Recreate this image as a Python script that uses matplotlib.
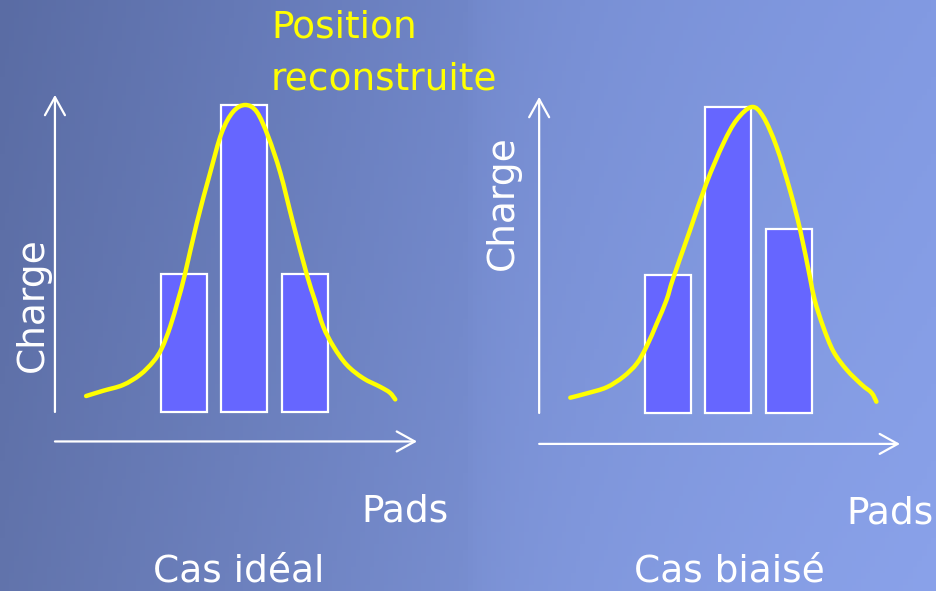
import numpy as np
import matplotlib
matplotlib.use("Agg")
import matplotlib.pyplot as plt
from matplotlib.path import Path
from matplotlib.patches import PathPatch

# pad positions and charge values (max = 100)
pads = [1, 2, 3]
charge_ideal = [45, 100, 45]
charge_biased = [45, 100, 60]

# reconstructed position curves (pad units, charge)
fit_ideal_x = [-0.61, -0.33, 0.00, 0.28, 0.50, 0.64, 0.78, 0.91, 1.02, 1.22, 1.44, 1.63,
               1.82, 2.02, 2.21, 2.40, 2.60, 2.81, 3.04, 3.17, 3.31, 3.48, 3.70, 3.97,
               4.25, 4.41, 4.50]
fit_ideal_y = [5.2, 6.9, 8.8, 12.1, 16.4, 20.7, 27.8, 36.5, 44.6, 61.6, 77.9, 90.9,
               97.8, 100.0, 97.8, 89.7, 77.9, 61.6, 44.6, 36.5, 27.8, 21.3, 15.3, 11.0,
               8.2, 6.3, 4.1]
fit_biased_x = [-0.61, -0.34, -0.01, 0.27, 0.49, 0.65, 0.82, 0.98, 1.09, 1.37, 1.64, 1.92,
                2.14, 2.39, 2.58, 2.80, 3.02, 3.19, 3.35, 3.43, 3.57, 3.74, 3.96,
                4.21, 4.37, 4.45]
fit_biased_y = [5.0, 6.4, 8.4, 11.9, 16.2, 21.7, 29.3, 36.9, 44.0, 59.8, 75.1, 88.1,
                95.8, 100.0, 96.8, 87.0, 72.9, 59.8, 44.5, 36.9, 28.2, 20.1, 14.1,
                9.2, 6.6, 3.7]

W, H = 936, 591
BAR = "#6666ff"
YEL = "#ffff00"
FONT = "DejaVu Sans"

fig = plt.figure(figsize=(W / 100, H / 100), dpi=100)

# slide background
bg = fig.add_axes([0, 0, 1, 1])
bg.set_axis_off()
xs = np.linspace(0, 1, 200)
ys = np.linspace(0, 1, 100)
left_c = np.array([90, 108, 164]) / 255
mid_c = np.array([112, 134, 200]) / 255
right_c = np.array([130, 154, 226]) / 255
col = np.where(xs[:, None] < 0.5,
               left_c + (mid_c - left_c) * (xs[:, None] / 0.5),
               mid_c + (right_c - mid_c) * np.sqrt((xs[:, None] - 0.5) / 0.5))
img = np.repeat(col[None, :, :], len(ys), axis=0)
img = img + 0.03 * ys[:, None, None]  # slightly lighter at the bottom
bg.imshow(np.clip(img, 0, 1), aspect="auto", extent=[0, 1, 0, 1], origin="upper")
bg.set_xlim(0, 1)
bg.set_ylim(0, 1)


def smooth_path(x, y):
    # bezier path through the read points (catmull-rom handles)
    p = np.column_stack([x, y])
    p = np.vstack([p[0], p, p[-1]])
    verts = [p[1]]
    codes = [Path.MOVETO]
    for i in range(1, len(p) - 2):
        c1 = p[i] + (p[i + 1] - p[i - 1]) / 6
        c2 = p[i + 1] - (p[i + 2] - p[i]) / 6
        verts += [c1, c2, p[i + 1]]
        codes += [Path.CURVE4] * 3
    return Path(verts, codes)


def panel(x_px, xlim, ylim, values, fx, fy, y_top, x_axis_y, x_end):
    ax = fig.add_axes([x_px / W, 1 - 460 / H, 390 / W, 380 / H])
    ax.patch.set_alpha(0)
    ax.set_xlim(*xlim)
    ax.set_ylim(*ylim)
    ax.set_axis_off()
    ax.bar(pads, values, width=0.76, color=BAR, edgecolor="white", linewidth=1.6, zorder=2)
    ax.add_patch(PathPatch(smooth_path(fx, fy), fill=False, edgecolor=YEL, lw=3.2,
                           capstyle="round", joinstyle="round", zorder=3))
    arrow = dict(arrowstyle="->,head_length=0.65,head_width=0.36", color="white",
                 lw=1.6, mutation_scale=20, shrinkA=0, shrinkB=0)
    ax.annotate("", xy=(-1.125, y_top), xytext=(-1.125, 0), arrowprops=arrow)
    ax.annotate("", xy=(x_end, x_axis_y), xytext=(-1.125, x_axis_y), arrowprops=arrow)
    return ax


panel(40, (-1.372, 5.074), (-15.64, 108.14), charge_ideal,
      fit_ideal_x, fit_ideal_y, 103.3, -9.6, 4.86)
panel(525, (-1.359, 5.088), (-15.36, 108.82), charge_biased,
      fit_biased_x, fit_biased_y, 103.3, -10.1, 4.84)

txt = dict(fontsize=27, family=FONT, va="baseline", ha="left")
fig.text(271 / W, 1 - 38 / H, "Position", color=YEL, **txt)
fig.text(271 / W, 1 - 90 / H, "reconstruite", color=YEL, **txt)
fig.text(361 / W, 1 - 522 / H, "Pads", color="white", **txt)
fig.text(846 / W, 1 - 523 / H, "Pads", color="white", **txt)
fig.text(153 / W, 1 - 582 / H, "Cas idéal", color="white", **txt)
fig.text(634 / W, 1 - 582 / H, "Cas biaisé", color="white", **txt)
fig.text(33 / W, 1 - 305 / H, "Charge", color="white", fontsize=27, family=FONT,
         rotation=90, ha="center", va="center")
fig.text(503 / W, 1 - 203 / H, "Charge", color="white", fontsize=27, family=FONT,
         rotation=90, ha="center", va="center")

fig.savefig("out.png", dpi=100)
